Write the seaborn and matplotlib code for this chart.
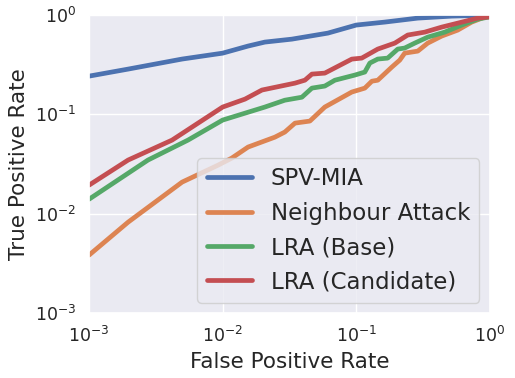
import numpy as np
import pandas as pd
import matplotlib
matplotlib.use("Agg")
import matplotlib.pyplot as plt
import seaborn as sns

# ROC curves (FPR, TPR)
spv_fpr = [0.001, 0.00196, 0.00497, 0.01, 0.0155, 0.0207, 0.033, 0.0614, 0.1, 0.164, 0.289, 0.519, 1.0]
spv_tpr = [0.243, 0.286, 0.361, 0.414, 0.488, 0.535, 0.573, 0.659, 0.794, 0.851, 0.933, 0.977, 1.0]

nb_fpr = [0.001, 0.00196, 0.00497, 0.00923, 0.0117, 0.0155, 0.0246, 0.0292, 0.0348, 0.045,
          0.0582, 0.0927, 0.116, 0.131, 0.145, 0.1845, 0.2118, 0.2307, 0.289, 0.343,
          0.4365, 0.575, 0.733, 0.916, 1.0]
nb_tpr = [0.00383, 0.00822, 0.0208, 0.0308, 0.0363, 0.0469, 0.059, 0.0664, 0.0817, 0.0857,
          0.1186, 0.168, 0.184, 0.216, 0.221, 0.299, 0.352, 0.414, 0.434, 0.522,
          0.615, 0.706, 0.851, 0.955, 0.98]

base_fpr = [0.001, 0.00276, 0.0055, 0.01, 0.0207, 0.0292, 0.0392, 0.0466, 0.0582, 0.0692,
            0.0977, 0.116, 0.1265, 0.145, 0.172, 0.2047, 0.2307, 0.274, 0.343, 0.46,
            0.6166, 0.813, 1.0]
base_tpr = [0.014, 0.0347, 0.0551, 0.0877, 0.1186, 0.139, 0.149, 0.184, 0.193, 0.221,
            0.249, 0.267, 0.329, 0.361, 0.369, 0.455, 0.466, 0.522, 0.6, 0.674,
            0.794, 0.912, 0.96]

cand_fpr = [0.001, 0.00196, 0.00418, 0.01, 0.0147, 0.0197, 0.0348, 0.0413, 0.0466, 0.0582,
            0.0927, 0.11, 0.145, 0.1945, 0.243, 0.326, 0.4365, 0.575, 0.813, 1.0]
cand_tpr = [0.0194, 0.0347, 0.0551, 0.1186, 0.1426, 0.176, 0.2065, 0.2213, 0.2547, 0.2606,
            0.3606, 0.369, 0.455, 0.5224, 0.63, 0.674, 0.757, 0.83, 0.933, 0.96]

labels = ["SPV-MIA", "Neighbour Attack", "LRA (Base)", "LRA (Candidate)"]

frames = []
for name, fx, ty in zip(labels, [spv_fpr, nb_fpr, base_fpr, cand_fpr],
                        [spv_tpr, nb_tpr, base_tpr, cand_tpr]):
    frames.append(pd.DataFrame({"fpr": fx, "tpr": ty, "method": name}))
df = pd.concat(frames, ignore_index=True)

sns.set_theme(style="darkgrid")
fig = plt.figure(figsize=(5.15, 3.78), dpi=100)
ax = fig.add_axes([0.173, 0.172, 0.778, 0.788])

sns.lineplot(data=df, x="fpr", y="tpr", hue="method", hue_order=labels,
             estimator=None, sort=False, linewidth=3.4, ax=ax)

ax.set_xscale("log")
ax.set_yscale("log")
ax.set_xlim(1e-3, 1)
ax.set_ylim(1e-3, 1)
ax.set_xlabel("False Positive Rate", fontsize=15.5)
ax.set_ylabel("True Positive Rate", fontsize=15.5)
ax.tick_params(axis="both", labelsize=12.5)
ax.minorticks_off()

handles, lbls = ax.get_legend_handles_labels()
ax.legend(handles, lbls, loc="lower right", fontsize=16.5, frameon=True,
          borderaxespad=0.45)

fig.savefig("out.png", dpi=100)
